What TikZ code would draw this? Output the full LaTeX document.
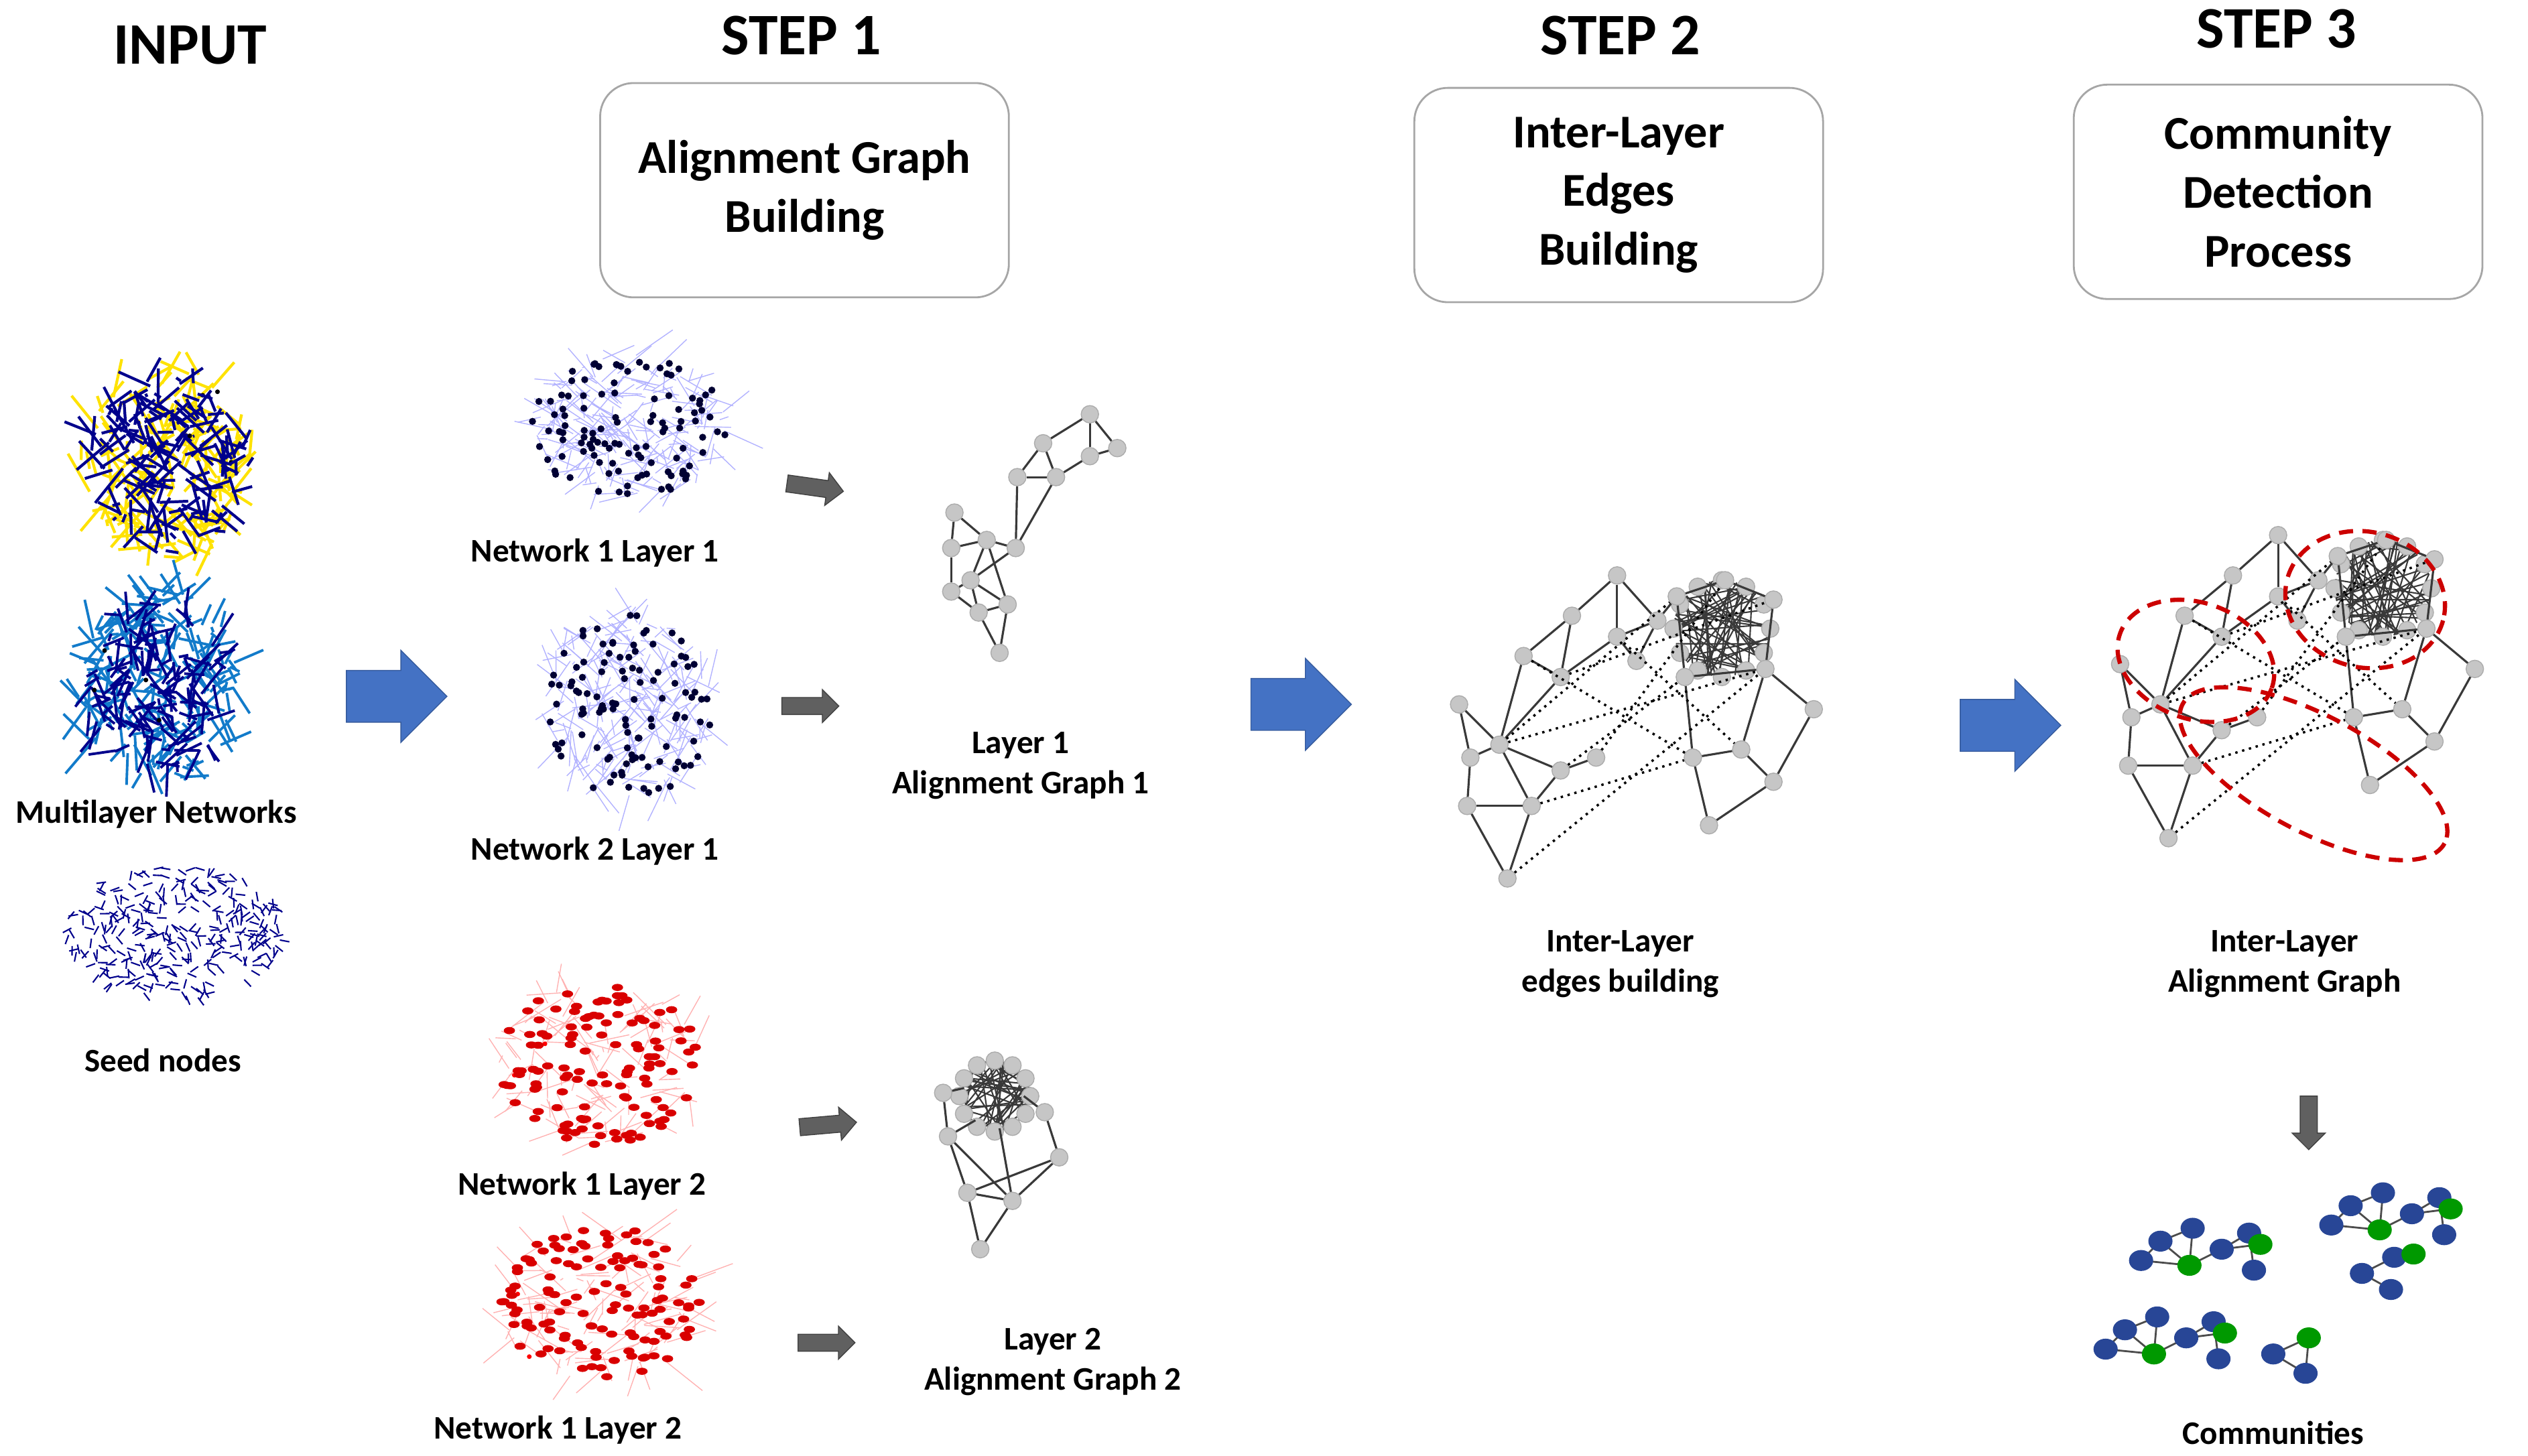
\documentclass[tikz,border=0pt]{standalone}
\usepackage{fontspec}
\setmainfont{Carlito}
\usetikzlibrary{shapes.arrows,shapes.geometric}
\definecolor{arrblue}{RGB}{68,114,196}
\definecolor{nblue}{RGB}{40,70,150}
\tikzset{
 title/.style={font=\bfseries\fontsize{25}{28}\selectfont},
 boxtxt/.style={draw=gray!70,rounded corners=0.5cm,line width=0.8pt,font=\bfseries\fontsize{20}{25}\selectfont,align=center,minimum width=6.1cm,minimum height=3.2cm},
 lab/.style={font=\bfseries\fontsize{14}{17}\selectfont,align=center},
 bigarr/.style={single arrow,fill=arrblue,draw=arrblue!80!black,inner sep=0.38cm,minimum height=1.5cm,single arrow head extend=0.3cm},
 smallarr/.style={single arrow,fill=gray!75!black,draw=gray!50!black,inner sep=0.12cm,minimum height=0.85cm,single arrow head extend=0.12cm},
 gn/.style={circle,fill=gray!45,draw=gray!65,minimum size=0.26cm,inner sep=0pt},
 ge/.style={gray!45!black,line width=0.9pt},
 de/.style={black,dotted,line width=1pt},
 rd/.style={red!80!black,dash pattern=on 6pt off 4pt,line width=1.8pt},
}
\newcommand\blob[9]{%
 \foreach \k in {1,...,#5}{%
  \pgfmathsetmacro\ra{sqrt(rnd)}\pgfmathsetmacro\ta{360*rnd}%
  \pgfmathsetmacro\xa{#1+#3*\ra*cos(\ta)}\pgfmathsetmacro\ya{#2+#4*\ra*sin(\ta)}%
  \pgfmathsetmacro\xb{\xa+0.4*#3*rand}\pgfmathsetmacro\yb{\ya+0.4*#4*rand}%
  \draw[#6] (\xa,\ya) -- (\xb,\yb);}%
 \foreach \k in {1,...,#7}{%
  \pgfmathsetmacro\ra{sqrt(rnd)}\pgfmathsetmacro\ta{360*rnd}%
  \pgfmathsetmacro\xa{#1+#3*\ra*cos(\ta)}\pgfmathsetmacro\ya{#2+#4*\ra*sin(\ta)}%
  \fill[#8] (\xa,\ya) circle (#9);}%
}
\newcommand\densecl[4]{%
 \foreach \k in {1,...,#4}{%
  \pgfmathsetmacro\ta{360*rnd}\pgfmathsetmacro\tb{\ta+60+200*rnd}%
  \pgfmathsetmacro\xa{#1+#3*cos(\ta)}\pgfmathsetmacro\ya{#2+#3*sin(\ta)}%
  \pgfmathsetmacro\xb{#1+#3*cos(\tb)}\pgfmathsetmacro\yb{#2+#3*sin(\tb)}%
  \draw[ge,line width=0.6pt] (\xa,\ya) -- (\xb,\yb);}%
 \foreach \t in {0,30,...,330}{\node[gn] at ({#1+#3*cos(\t)},{#2+#3*sin(\t)}) {};}%
}
\newcommand\stepgraph{%
 \densecl{1068}{390}{30}{45}
 \foreach \n/\x/\y in {a/905/437,b/912/470,c/930/462,d/945/407,e/968/420,f/975/382,g/1003/357,h/1003/395,i/1028/385,j/1015/410,k/950/500,l/935/545,m/910/500,n/968/478,o/990/470,
   r1/1040/370,r2/1100/372,r3/1095/415,r4/1045/420,r5/1125/440,r6/1080/465,r7/1060/512,r8/1050/470,r9/1100/485,r10/1070/360}
   {\node[gn] (\n) at (\x,\y) {};}
 \foreach \a/\b in {a/b,a/c,b/c,c/d,d/e,d/f,e/f,f/g,g/h,g/i,h/i,h/j,i/j,e/h,c/k,k/l,k/m,m/b,k/n,n/o,c/n,l/m,e/c,
   r1/r4,r2/r3,r3/r5,r4/r8,r3/r6,r6/r8,r8/r7,r6/r9,r9/r5,r7/r9,r1/r10,r10/r2,r4/r3,i/r1}
   {\draw[ge] (\a) -- (\b);}
 \foreach \a/\b in {c/r1,c/r3,n/r4,k/r8,l/r3,d/r8,e/r2,h/r6,o/r10}
   {\draw[de] (\a) -- (\b);}
}
\newcommand\comm[2]{%
 \begin{scope}[shift={(#1,#2)}]
 \draw[gray!60!black,line width=0.8pt] (0,0)--(20,-8)--(18,15)--(0,0)--(-12,12)--(18,15)--(38,5)--(55,-5)--(58,18) (38,5)--(62,2);
 \foreach \x/\y/\c in {0/0/nblue,20/-8/nblue,18/15/green!60!black,-12/12/nblue,38/5/nblue,55/-5/nblue,58/18/nblue,62/2/green!60!black}
   {\fill[\c] (\x,\y) ellipse (7.5 and 6.5);}
 \end{scope}}
\begin{document}
\begin{tikzpicture}[x=0.02406cm,y=-0.02406cm]
\useasboundingbox (0,0) rectangle (1568,903);
\pgfmathsetseed{7}
\node[title] (tin) at (118,28) {INPUT};
\node[title] (t1) at (497,22) {STEP 1};
\node[title] (t2) at (1005,22) {STEP 2};
\node[title] (t3) at (1412,18) {STEP 3};
\node[boxtxt] (b1) at (499,118) {Alignment Graph\\Building};
\node[boxtxt] (b2) at (1004,121) {Inter-Layer\\Edges\\Building};
\node[boxtxt] (b3) at (1413,119) {Community\\Detection\\Process};
% input
\blob{105}{287}{55}{60}{160}{yellow!85!orange,line width=1.2pt}{0}{black}{1pt}
\blob{105}{287}{50}{55}{170}{blue!55!black,line width=1.2pt}{0}{black}{1pt}
\blob{98}{425}{52}{60}{200}{cyan!60!blue,line width=1.1pt}{0}{black}{1pt}
\blob{98}{425}{45}{52}{150}{blue!55!black,line width=1.1pt}{0}{black}{1pt}
\foreach \k in {1,...,320}{\pgfmathsetmacro\ra{sqrt(rnd)}\pgfmathsetmacro\ta{360*rnd}\pgfmathsetmacro\tb{180*rnd}
  \draw[blue!55!black,line width=0.6pt] ({110+68*\ra*cos(\ta)},{578+42*\ra*sin(\ta)}) -- ++(\tb:6);}
\node[lab] (lin) at (97,505) {Multilayer Networks};
\node[lab] (lseed) at (101,658) {Seed nodes};
\node[bigarr] (A1) at (238,432) {};
\node[bigarr] (A2) at (799,437) {};
\node[bigarr] (A3) at (1239,450) {};
% step 1 networks
\blob{390}{265}{60}{45}{220}{blue!30,line width=0.4pt}{110}{black!80!blue}{1.5pt}
\blob{390}{438}{52}{58}{220}{blue!30,line width=0.4pt}{110}{black!80!blue}{1.5pt}
\blob{372}{660}{62}{50}{120}{red!30,line width=0.4pt}{0}{red}{1pt}
\blob{372}{808}{62}{48}{120}{red!30,line width=0.4pt}{0}{red}{1pt}
\foreach \k in {1,...,120}{\pgfmathsetmacro\ra{sqrt(rnd)}\pgfmathsetmacro\ta{360*rnd}
  \fill[red!85!black] ({372+62*\ra*cos(\ta)},{660+50*\ra*sin(\ta)}) ellipse (3.5 and 2.2);
  \pgfmathsetmacro\ra{sqrt(rnd)}\pgfmathsetmacro\ta{360*rnd}
  \fill[red!85!black] ({372+62*\ra*cos(\ta)},{808+48*\ra*sin(\ta)}) ellipse (3.5 and 2.2);}
\node[lab] (l11) at (369,343) {Network 1 Layer 1};
\node[lab] (l21) at (369,528) {Network 2 Layer 1};
\node[lab] (l12) at (361,736) {Network 1 Layer 2};
\node[lab] (l22) at (346,887) {Network 1 Layer 2};
\node[smallarr,rotate=-8] (s1) at (503,302) {};
\node[smallarr] (s2) at (500,438) {};
\node[smallarr,rotate=5] (s3) at (511,698) {};
\node[smallarr] (s4) at (510,833) {};
% alignment graph 1
\foreach \n/\x/\y in {p1/676/257,p2/693/278,p3/676/283,p4/655/296,p5/631/296,p6/647/275,p7/612/335,p8/592/318,p9/590/340,p10/602/360,p11/590/367,p12/625/375,p13/607/380,p14/620/405,p15/630/340}
  {\node[gn] (\n) at (\x,\y) {};}
\foreach \a/\b in {p1/p2,p1/p3,p1/p6,p2/p3,p3/p4,p4/p6,p4/p5,p5/p6,p5/p15,p4/p15,p15/p7,p7/p8,p7/p9,p8/p9,p7/p10,p9/p11,p10/p11,p10/p12,p10/p13,p12/p13,p13/p14,p12/p14,p7/p12,p15/p10,p11/p13}
  {\draw[ge] (\a) -- (\b);}
\node[lab] (la1) at (633,475) {Layer 1\\Alignment Graph 1};
% alignment graph 2
\densecl{617}{680}{22}{40}
\foreach \n/\x/\y in {q1/588/705,q2/600/740,q3/628/745,q4/657/718,q5/648/690,q6/608/775,q7/585/678}
  {\node[gn] (\n) at (\x,\y) {};}
\foreach \a/\b in {q1/q2,q2/q3,q3/q4,q4/q5,q1/q3,q2/q6,q3/q6,q7/q1,q2/q4}{\draw[ge] (\a) -- (\b);}
\draw[ge] (q1) -- (605,695) (q5) -- (635,680) (q3) -- (620,700) (q7) -- (598,675);
\node[lab] (la2) at (653,845) {Layer 2\\Alignment Graph 2};
% step 2
\begin{scope}[name prefix=s2-]\stepgraph\end{scope}
\node[lab] (ls2) at (1005,598) {Inter-Layer\\edges building};
% step 3
\begin{scope}[shift={(410,-25)},name prefix=s3-]\stepgraph\end{scope}
\draw[rd,rotate around={-20:(1362,410)}] (1362,410) ellipse (50 and 36);
\draw[rd,rotate around={-15:(1467,372)}] (1467,372) ellipse (50 and 42);
\draw[rd,rotate around={-28:(1435,480)}] (1435,480) ellipse (92 and 36);
\node[lab] (ls3) at (1417,598) {Inter-Layer\\Alignment Graph};
\node[smallarr,rotate=-90,minimum height=0.8cm] (s5) at (1432,694) {};
% communities
\comm{1340}{770}
\comm{1458}{748}
\comm{1318}{825}
\begin{scope}[shift={(1410,840)}]
 \draw[gray!60!black,line width=0.8pt] (0,0)--(22,-10) (0,0)--(20,12)--(22,-10);
 \foreach \x/\y/\c in {0/0/nblue,22/-10/green!60!black,20/12/nblue}{\fill[\c] (\x,\y) ellipse (7.5 and 6.5);}
\end{scope}
\begin{scope}[shift={(1465,790)}]
 \draw[gray!60!black,line width=0.8pt] (0,0)--(20,-10) (0,0)--(18,10) (20,-10)--(32,-12);
 \foreach \x/\y/\c in {0/0/nblue,20/-10/nblue,18/10/nblue,32/-12/green!60!black}{\fill[\c] (\x,\y) ellipse (7.5 and 6.5);}
\end{scope}
\node[lab] (lcom) at (1410,889) {Communities};
\end{tikzpicture}
\end{document}
